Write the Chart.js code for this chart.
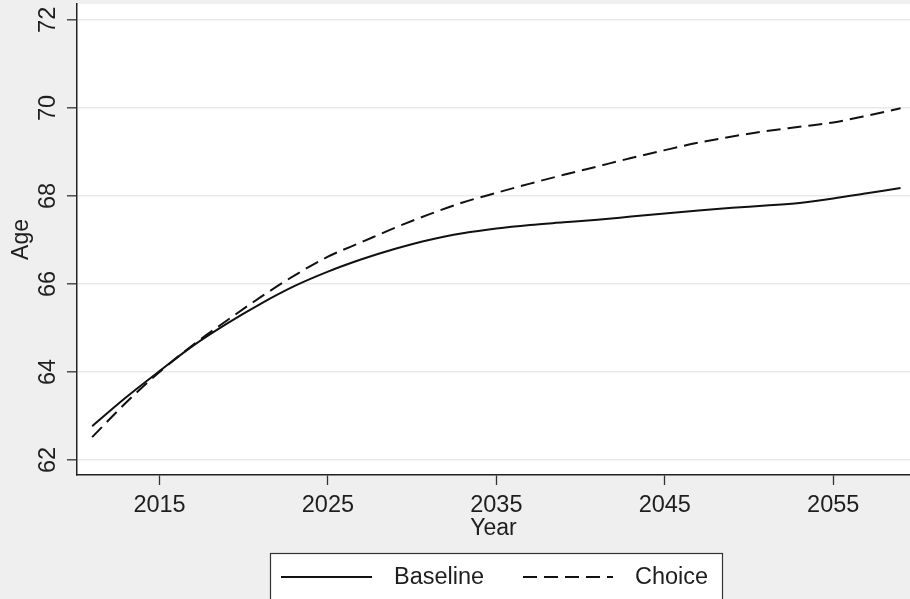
<!DOCTYPE html>
<html>
<head>
<meta charset="utf-8">
<script src="https://cdn.jsdelivr.net/npm/chart.js@4.4.0/dist/chart.umd.min.js"></script>
<style>
  html, body { margin: 0; padding: 0; background: #efefef; }
  #wrap { width: 910px; height: 599px; }
</style>
</head>
<body>
<div id="wrap"><canvas id="ageChart" width="910" height="599"></canvas></div>
<script>
// valores
const years = [2011, 2013, 2015, 2017, 2019, 2021, 2023, 2025, 2027, 2029, 2031, 2033, 2035,
               2037, 2039, 2041, 2043, 2045, 2047, 2049, 2051, 2053, 2055, 2057, 2059];
const baseline = [62.77, 63.42, 64.02, 64.60, 65.10, 65.55, 65.95, 66.28, 66.56, 66.80, 67.00, 67.15, 67.26,
                  67.34, 67.40, 67.46, 67.53, 67.60, 67.67, 67.73, 67.78, 67.84, 67.94, 68.06, 68.18];
const choice = [62.52, 63.30, 64.00, 64.62, 65.17, 65.70, 66.19, 66.62, 66.95, 67.28, 67.58, 67.85, 68.07,
                68.28, 68.48, 68.67, 68.86, 69.04, 69.21, 69.35, 69.47, 69.57, 69.67, 69.82, 69.99];
const xTicks = [2015, 2025, 2035, 2045, 2055];
const yTicks = [62, 64, 66, 68, 70, 72];
const seriesNames = ['Baseline', 'Choice'];

const FONT = 'Liberation Sans, Arial, sans-serif';
const TEXT = '#1e1e1e';

function puntos(vals) {
  return years.map((y, i) => ({ x: y, y: vals[i] }));
}

// fondo gris y zona del gráfico en blanco
const fondo = {
  id: 'fondo',
  beforeDraw(chart) {
    const { ctx, chartArea: a } = chart;
    ctx.save();
    ctx.fillStyle = '#efefef';
    ctx.fillRect(0, 0, chart.width, chart.height);
    ctx.fillStyle = '#ffffff';
    ctx.fillRect(a.left, a.top, a.right - a.left, a.bottom - a.top);
    ctx.restore();
  }
};

// etiquetas del eje Y giradas, como en Stata
const etiquetasY = {
  id: 'etiquetasY',
  afterDraw(chart) {
    const { ctx } = chart;
    const s = chart.scales.y;
    ctx.save();
    ctx.font = '23.5px ' + FONT;
    ctx.fillStyle = TEXT;
    ctx.textAlign = 'center';
    ctx.textBaseline = 'middle';
    yTicks.forEach(v => {
      ctx.save();
      ctx.translate(s.right - 29.5, s.getPixelForValue(v));
      ctx.rotate(-Math.PI / 2);
      ctx.fillText(String(v), 0, 1);
      ctx.restore();
    });
    ctx.restore();
  }
};

// leyenda en caja abajo
const leyenda = {
  id: 'leyenda',
  afterDraw(chart) {
    const { ctx } = chart;
    const box = { x: 270.5, y: 553.5, w: 452, h: 50 };
    ctx.save();
    ctx.fillStyle = '#ffffff';
    ctx.fillRect(box.x, box.y, box.w, box.h);
    ctx.strokeStyle = '#333';
    ctx.lineWidth = 1.2;
    ctx.strokeRect(box.x, box.y, box.w, box.h);
    const cy = 577;
    const items = [
      { x0: 281, x1: 372, tx: 394 },
      { x0: 523, x1: 613, tx: 635 }
    ];
    chart.data.datasets.forEach((ds, i) => {
      const it = items[i];
      ctx.beginPath();
      ctx.setLineDash(ds.borderDash || []);
      ctx.strokeStyle = ds.borderColor;
      ctx.lineWidth = ds.borderWidth;
      ctx.moveTo(it.x0, cy);
      ctx.lineTo(it.x1, cy);
      ctx.stroke();
      ctx.setLineDash([]);
      ctx.font = '23.5px ' + FONT;
      ctx.fillStyle = TEXT;
      ctx.textAlign = 'left';
      ctx.textBaseline = 'middle';
      ctx.fillText(ds.label, it.tx, cy + 1);
    });
    ctx.restore();
  }
};

new Chart(document.getElementById('ageChart'), {
  type: 'line',
  data: {
    datasets: [
      {
        label: seriesNames[0],
        data: puntos(baseline),
        borderColor: '#111',
        borderWidth: 2,
        pointRadius: 0,
        cubicInterpolationMode: 'monotone',
        fill: false
      },
      {
        label: seriesNames[1],
        data: puntos(choice),
        borderColor: '#111',
        borderWidth: 2,
        borderDash: [14, 7],
        pointRadius: 0,
        cubicInterpolationMode: 'monotone',
        fill: false
      }
    ]
  },
  options: {
    responsive: false,
    animation: false,
    layout: { padding: { left: 0, right: 0, top: 4, bottom: 54 } },
    plugins: {
      legend: { display: false },
      tooltip: { enabled: false }
    },
    scales: {
      x: {
        type: 'linear',
        min: 2010.1,
        max: 2059.56,
        afterBuildTicks: s => { s.ticks = xTicks.map(v => ({ value: v })); },
        afterFit: s => { s.height = 70; },
        grid: { drawOnChartArea: false, drawTicks: true, tickLength: 10, tickColor: '#333', tickWidth: 1.3 },
        border: { color: '#222', width: 1.5 },
        ticks: {
          font: { family: FONT, size: 23.5 },
          color: TEXT,
          padding: 6,
          maxRotation: 0,
          callback: v => String(v)
        },
        title: {
          display: true,
          text: 'Year',
          font: { family: FONT, size: 23 },
          color: TEXT,
          padding: { top: 0, bottom: 3 }
        }
      },
      y: {
        min: 61.66,
        max: 72.36,
        afterBuildTicks: s => { s.ticks = yTicks.map(v => ({ value: v })); },
        afterFit: s => { s.width = 77; },
        grid: { color: '#e9e9e9', lineWidth: 1.6, drawTicks: true, tickLength: 10, tickColor: '#333', tickWidth: 1.3 },
        border: { color: '#222', width: 1.5 },
        ticks: { display: false },
        title: {
          display: true,
          text: 'Age',
          font: { family: FONT, size: 23 },
          color: TEXT,
          padding: { top: 8, bottom: 0 }
        }
      }
    }
  },
  plugins: [fondo, etiquetasY, leyenda]
});
</script>
</body>
</html>
